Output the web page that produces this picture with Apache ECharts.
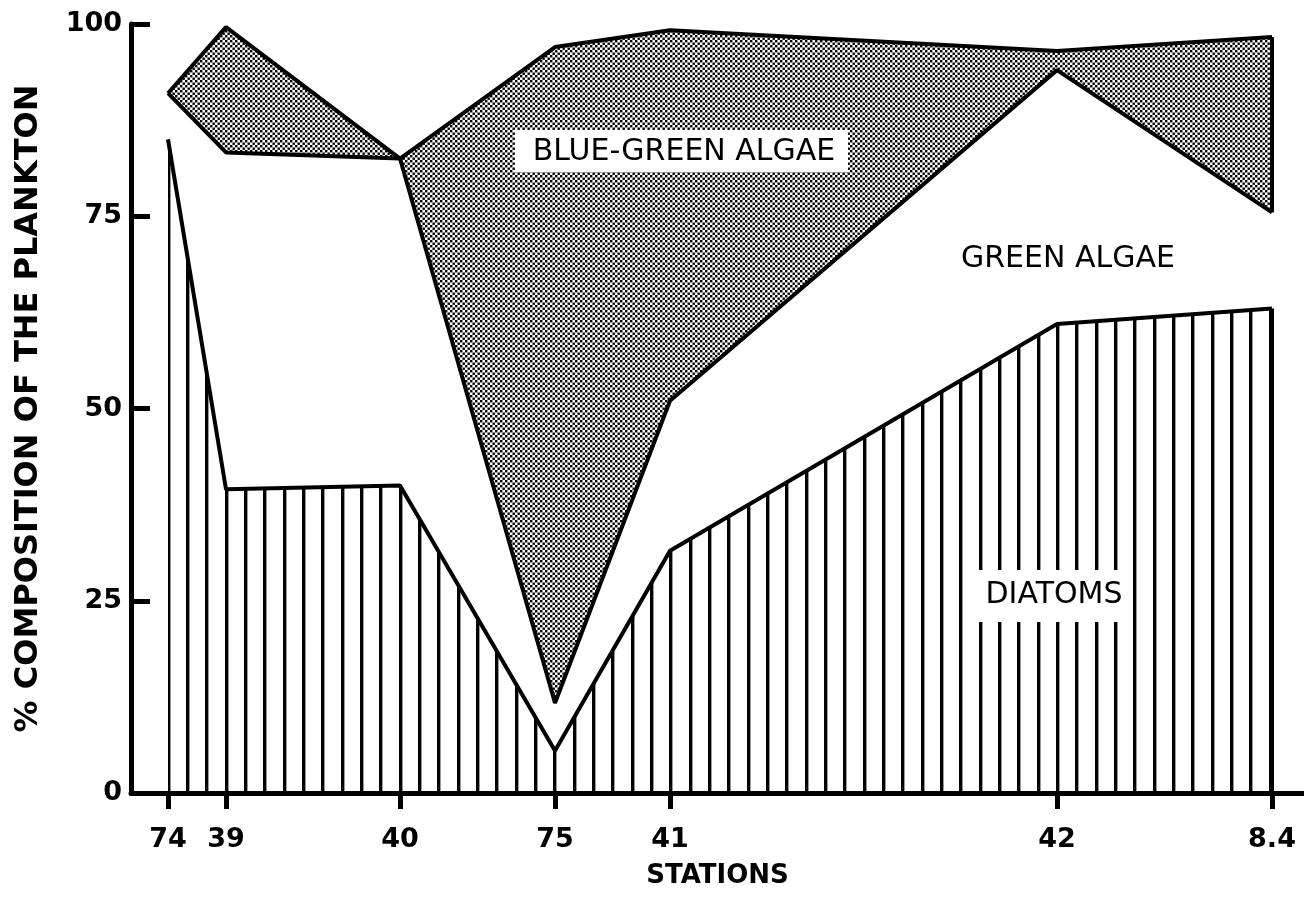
<!DOCTYPE html>
<html>
<head>
<meta charset="utf-8">
<title>Composition of the plankton by station</title>
<script src="https://cdn.jsdelivr.net/npm/echarts@6/dist/echarts.min.js"></script>
<style>
  html, body { margin: 0; padding: 0; background: #fff; }
  #main { width: 1304px; height: 913px; }
</style>
</head>
<body>
<div id="main"></div>
<script>
// stations, in order along the transect, and where each sits on the horizontal scale
const stationNames = ['74', '39', '40', '75', '41', '42', '8.4'];
const stationPos = [37, 95, 269, 424, 539, 926, 1141];
// cumulative % of the plankton (bottom to top)
const diatoms = [85, 39.5, 40, 5.5, 31.5, 61, 63];
const greenTop = [91, 83.3, 82.5, 11.7, 51, 94, 75.5];
const blueGreenTop = [91, 99.6, 82.5, 97, 99.2, 96.5, 98.3];
const yTicks = [0, 25, 50, 75, 100];

const FONT = '"DejaVu Sans", sans-serif';

// vertical hatching for the diatoms
function stripePattern() {
  const c = document.createElement('canvas');
  c.width = 58; c.height = 8;
  const ctx = c.getContext('2d');
  ctx.fillStyle = '#fff';
  ctx.fillRect(0, 0, 58, 8);
  ctx.fillStyle = '#000';
  [12, 31, 51].forEach(x => ctx.fillRect(x, 0, 3.4, 8));
  return c;
}
// stipple for the blue-green algae
function dotPattern() {
  const c = document.createElement('canvas');
  c.width = 10; c.height = 10;
  const ctx = c.getContext('2d');
  ctx.fillStyle = '#fff';
  ctx.fillRect(0, 0, 10, 10);
  ctx.fillStyle = '#000';
  [0, 5].forEach(a => [0, 5].forEach(b => {
    ctx.fillRect(a, b, 2.4, 2.4);
    ctx.fillRect(a + 2.5, b + 2.5, 2.4, 2.4);
  }));
  return c;
}

function edge(x, y1, y2) {
  return [{ coord: [x, y1] }, { coord: [x, y2] }];
}

function areaSeries(name, values, fill, edges) {
  return {
    name: name,
    type: 'line',
    data: stationPos.map((x, i) => [x, values[i]]),
    symbol: 'none',
    silent: true,
    lineStyle: { color: '#000', width: 4 },
    areaStyle: { color: fill, opacity: 1 },
    markLine: edges ? {
      silent: true,
      symbol: ['none', 'none'],
      label: { show: false },
      lineStyle: { color: '#000', width: 4, type: 'solid' },
      data: edges
    } : undefined
  };
}

const last = stationPos.length - 1;
const chart = echarts.init(document.getElementById('main'));

const textStyle = t => ({
  text: t, font: '30px ' + FONT, fill: '#000',
  align: 'center', verticalAlign: 'middle', textAlign: 'center', textVerticalAlign: 'middle'
});

const option = {
  animation: false,
  backgroundColor: '#fff',
  grid: { left: 131, right: 0, top: 24, bottom: 120 },
  xAxis: {
    type: 'value',
    min: 0,
    max: 1173,
    z: 10,
    axisLine: { show: true, onZero: false, lineStyle: { color: '#000', width: 5 } },
    axisTick: { show: true, customValues: stationPos, length: 16, lineStyle: { color: '#000', width: 5 } },
    axisLabel: {
      customValues: stationPos,
      formatter: v => stationNames[stationPos.indexOf(v)],
      color: '#000', fontFamily: FONT, fontWeight: 'bold', fontSize: 27, margin: 33
    },
    splitLine: { show: false },
    name: 'STATIONS',
    nameLocation: 'middle',
    nameGap: 70,
    nameTextStyle: { color: '#000', fontFamily: FONT, fontWeight: 'bold', fontSize: 26 }
  },
  yAxis: {
    type: 'value',
    min: 0,
    max: 100,
    interval: 25,
    z: 10,
    axisLine: { show: true, lineStyle: { color: '#000', width: 5 } },
    axisTick: { show: true, inside: true, length: 19, lineStyle: { color: '#000', width: 5 } },
    axisLabel: {
      customValues: yTicks,
      color: '#000', fontFamily: FONT, fontWeight: 'bold', fontSize: 27, margin: 9
    },
    splitLine: { show: false },
    name: '% COMPOSITION OF THE PLANKTON',
    nameLocation: 'middle',
    nameGap: 86,
    nameTextStyle: { color: '#000', fontFamily: FONT, fontWeight: 'bold', fontSize: 32 }
  },
  series: [
    areaSeries('Blue-green algae', blueGreenTop, { image: dotPattern(), repeat: 'repeat' },
      [edge(stationPos[last], greenTop[last], blueGreenTop[last])]),
    areaSeries('Green algae', greenTop, '#fff'),
    areaSeries('Diatoms', diatoms, { image: stripePattern(), repeat: 'repeat' },
      [edge(stationPos[last], 0, diatoms[last])])
  ],
  graphic: [
    { type: 'rect', z: 100, shape: { x: 515, y: 130, width: 333, height: 42 }, style: { fill: '#fff' } },
    { type: 'text', z: 101, x: 684, y: 152, style: textStyle('BLUE-GREEN ALGAE') },
    { type: 'text', z: 101, x: 1068, y: 259, style: textStyle('GREEN ALGAE') },
    { type: 'rect', z: 100, shape: { x: 966, y: 570, width: 164, height: 52 }, style: { fill: '#fff' } },
    { type: 'text', z: 101, x: 1054, y: 595, style: textStyle('DIATOMS') }
  ]
};

chart.setOption(option);
window.onresize = chart.resize;
</script>
</body>
</html>
